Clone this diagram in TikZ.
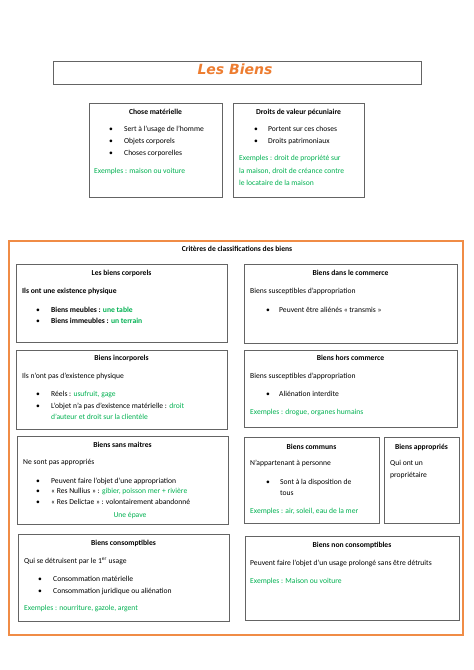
\documentclass[tikz,border=0pt]{standalone}
\usepackage{fontspec}
\setmainfont{Carlito}
\newfontfamily\titlefont{DejaVu Sans}
\definecolor{grn}{RGB}{0,176,80}
\definecolor{ttlorange}{RGB}{237,125,49}
\definecolor{frameorange}{RGB}{240,140,70}
\definecolor{boxgray}{RGB}{100,100,100}
\tikzset{
  box/.style={draw=boxgray, line width=0.9pt},
  obox/.style={draw=frameorange, line width=1.1pt},
  txt/.style={inner sep=0pt, anchor=mid west, font=\fontsize{7.6}{9}\selectfont},
  ttl/.style={inner sep=0pt, anchor=mid, font=\fontsize{7.6}{9}\selectfont\bfseries},
  ex/.style={txt, text=grn},
  bul/.style={inner sep=0pt, anchor=mid, font=\fontsize{7.6}{9}\selectfont},
}
\begin{document}
\begin{tikzpicture}[x=1pt,y=-1pt]
\useasboundingbox (0,0) rectangle (474,670);
% title
\draw[box] (53,61) rectangle (421,84);
\node[inner sep=0pt, anchor=mid, text=ttlorange, font=\titlefont\fontsize{14}{16}\selectfont\bfseries\itshape] (title) at (235,72) {Les Biens};

% Chose materielle
\draw[box] (89,103) rectangle (222,197);
\node[ttl] (cm) at (155.5,112) {Chose matérielle};
\node[bul] (cmb1) at (111,129) {•};
\node[txt] (cm1) at (124,129) {Sert à l’usage de l’homme};
\node[bul] (cmb2) at (111,141) {•};
\node[txt] (cm2) at (124,141) {Objets corporels};
\node[bul] (cmb3) at (111,153) {•};
\node[txt] (cm3) at (124,153) {Choses corporelles};
\node[ex] (cm4) at (94,171) {Exemples : maison ou voiture};

% Droits
\draw[box] (233,103) rectangle (364,197);
\node[ttl] (dv) at (298.5,112) {Droits de valeur pécuniaire};
\node[bul] (dvb1) at (256,129) {•};
\node[txt] (dv1) at (268,129) {Portent sur ces choses};
\node[bul] (dvb2) at (256,141) {•};
\node[txt] (dv2) at (268,141) {Droits patrimoniaux};
\node[ex] (dv3) at (239,158) {Exemples : droit de propriété sur};
\node[ex] (dv4) at (239,171) {la maison, droit de créance contre};
\node[ex] (dv5) at (239,183) {le locataire de la maison};

% orange frame
\draw[obox] (9,241) rectangle (463,635);
\node[ttl] (crit) at (237,249) {Critères de classifications des biens};

% A corporels
\draw[box] (16,264) rectangle (227,342);
\node[ttl] (a0) at (121.5,273) {Les biens corporels};
\node[txt, font=\fontsize{7.6}{9}\selectfont\bfseries] (a1) at (22,291) {Ils ont une existence physique};
\node[bul] (ab1) at (38,310) {•};
\node[txt, font=\fontsize{7.6}{9}\selectfont\bfseries] (a2) at (51,310) {Biens meubles : \textcolor{grn}{une table}};
\node[bul] (ab2) at (38,321) {•};
\node[txt, font=\fontsize{7.6}{9}\selectfont\bfseries] (a3) at (51,321) {Biens immeubles : \textcolor{grn}{un terrain}};

% B dans le commerce
\draw[box] (244,264) rectangle (457,343);
\node[ttl] (b0) at (350.5,273) {Biens dans le commerce};
\node[txt] (b1) at (250,291) {Biens susceptibles d’appropriation};
\node[bul] (bb1) at (268,310) {•};
\node[txt] (b2) at (279,310) {Peuvent être aliénés «~transmis~»};

% C incorporels
\draw[box] (16,350) rectangle (227,429);
\node[ttl] (c0) at (121.5,358) {Biens incorporels};
\node[txt] (c1) at (22,376) {Ils n’ont pas d’existence physique};
\node[bul] (cb1) at (38,394) {•};
\node[txt] (c2) at (51,394) {Réels : \textcolor{grn}{usufruit, gage}};
\node[bul] (cb2) at (38,406) {•};
\node[txt] (c3) at (51,406) {L’objet n’a pas d’existence matérielle : \textcolor{grn}{droit}};
\node[ex] (c4) at (51,417) {d’auteur et droit sur la clientèle};

% D hors commerce
\draw[box] (244,350) rectangle (457,427);
\node[ttl] (d0) at (350.5,358) {Biens hors commerce};
\node[txt] (d1) at (250,376) {Biens susceptibles d’appropriation};
\node[bul] (db1) at (268,394) {•};
\node[txt] (d2) at (279,394) {Aliénation interdite};
\node[ex] (d3) at (250,412) {Exemples : drogue, organes humains};

% E sans maitres
\draw[box] (17,436) rectangle (228,524);
\node[ttl] (e0) at (122.5,445) {Biens sans maitres};
\node[txt] (e1) at (23,462) {Ne sont pas appropriés};
\node[bul] (eb1) at (38,481) {•};
\node[txt] (e2) at (51,481) {Peuvent faire l’objet d’une appropriation};
\node[bul] (eb2) at (38,491) {•};
\node[txt] (e3) at (51,491) {«~Res Nullius~» : \textcolor{grn}{gibier, poisson mer + rivière}};
\node[bul] (eb3) at (38,502) {•};
\node[txt] (e4) at (51,502) {«~Res Delictae~» : volontairement abandonné};
\node[ttl, font=\fontsize{7.6}{9}\selectfont, text=grn] (e5) at (130,515) {Une épave};

% F communs
\draw[box] (244,437) rectangle (379,523);
\node[ttl] (f0) at (311.5,447) {Biens communs};
\node[txt] (f1) at (250,463) {N’appartenant à personne};
\node[bul] (fb1) at (268,482) {•};
\node[txt] (f2) at (280,482) {Sont à la disposition de};
\node[txt] (f3) at (280,493) {tous};
\node[ex] (f4) at (250,511) {Exemples : air, soleil, eau de la mer};

% G appropries
\draw[box] (384,437) rectangle (459,523);
\node[ttl] (g0) at (421.5,447) {Biens appropriés};
\node[txt] (g1) at (390,463) {Qui ont un};
\node[txt] (g2) at (390,475) {propriétaire};

% H consomptibles
\draw[box] (18,534) rectangle (229,621);
\node[ttl] (h0) at (123.5,543) {Biens consomptibles};
\node[txt] (h1) at (24,561) {Qui se détruisent par le 1\textsuperscript{er} usage};
\node[bul] (hb1) at (40,579) {•};
\node[txt] (h2) at (53,579) {Consommation matérielle};
\node[bul] (hb2) at (40,591) {•};
\node[txt] (h3) at (53,591) {Consommation juridique ou aliénation};
\node[ex] (h4) at (24,608) {Exemples : nourriture, gazole, argent};

% I non consomptibles
\draw[box] (245,536) rectangle (459,620);
\node[ttl] (i0) at (352,545) {Biens non consomptibles};
\node[txt] (i1) at (250,563) {Peuvent faire l’objet d’un usage prolongé sans être détruits};
\node[ex] (i2) at (250,581) {Exemples : Maison ou voiture};
\end{tikzpicture}
\end{document}
